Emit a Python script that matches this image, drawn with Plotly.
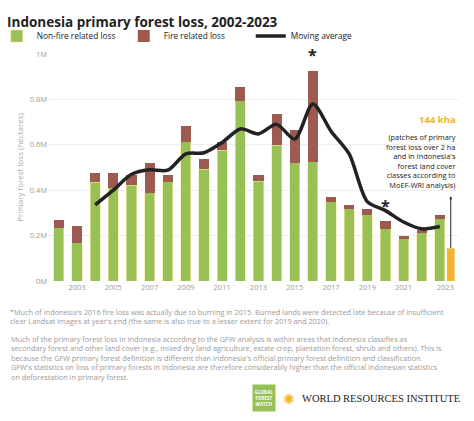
import plotly.graph_objects as go

years = list(range(2002, 2024))
nonfire = [0.234,0.169,0.434,0.410,0.422,0.388,0.437,0.613,0.493,0.575,0.793,0.440,0.599,0.521,0.525,0.350,0.319,0.291,0.231,0.187,0.213,0.275]
total = [0.268,0.244,0.476,0.476,0.466,0.522,0.466,0.681,0.537,0.612,0.853,0.469,0.735,0.665,0.926,0.369,0.337,0.319,0.266,0.200,0.225,0.290]
fire = [round(t-n,3) for t,n in zip(total,nonfire)]
ma_years = list(range(2004, 2024))
ma = [0.335,0.40,0.47,0.49,0.488,0.56,0.565,0.61,0.67,0.648,0.69,0.625,0.78,0.66,0.56,0.35,0.31,0.26,0.23,0.24]
moef_year = 2023.6
moef_val = 0.144
ytick_vals = [0,0.2,0.4,0.6,0.8,1.0]
ytick_text = ["0M","0.2M","0.4M","0.6M","0.8M","1M"]
xtick_vals = [2003,2005,2007,2009,2011,2013,2015,2017,2019,2021,2023.3]
xtick_text = ["2003","2005","2007","2009","2011","2013","2015","2017","2019","2021","2023"]

GREEN="#97c155"; BROWN="#9e5a50"; ORANGE="#f6b526"; GRAY="#9a9a9a"
fig = go.Figure()
fig.add_bar(x=years, y=nonfire, name="Non-fire related loss", marker_color=GREEN, width=0.56,
            marker_line=dict(color="#f3e9a0", width=0.6))
fig.add_bar(x=years, y=fire, name="Fire related loss", marker_color=BROWN, width=0.56, marker_line_width=0)
fig.add_bar(x=[moef_year], y=[moef_val], marker_color=ORANGE, width=0.42, showlegend=False)
fig.add_scatter(x=ma_years, y=ma, mode="lines", name="Moving average",
                line=dict(color="#222222", width=3.5, shape="spline", smoothing=0.8))
fig.update_layout(
    barmode="stack", width=474, height=421, paper_bgcolor="white", plot_bgcolor="white",
    margin=dict(l=48, r=16, t=54, b=140, autoexpand=False), font=dict(family="Open Sans", color=GRAY),
    title=dict(text="<b>Indonesia primary forest loss, 2002-2023</b>", x=0.015, y=0.958,
               font=dict(size=13.5, color="#222", family="Open Sans")),
    legend=dict(orientation="h", x=-0.125, y=1.079, xanchor="left", yanchor="middle",
                font=dict(size=8.3, color="#222"), traceorder="normal", itemwidth=30,
                entrywidth=82, entrywidthmode="pixels"),
    xaxis=dict(range=[2001.4, 2024.0], tickvals=xtick_vals, ticktext=xtick_text, tickfont=dict(size=7.5),
               showgrid=False, showline=False, ticks=""),
    yaxis=dict(range=[0, 1.0], tickvals=ytick_vals, ticktext=ytick_text, tickfont=dict(size=7.5),
               gridcolor="#eeeeee", zeroline=False,
               title=dict(text="Primary forest loss (hectares)", font=dict(size=8, color="#aaa"), standoff=4)),
    bargap=0.3,
)
fig.add_annotation(x=2016, y=0.94, text="<b>*</b>", showarrow=False, font=dict(size=16, color="#222"), yanchor="bottom")
fig.add_annotation(x=2020, y=0.275, text="<b>*</b>", showarrow=False, font=dict(size=16, color="#222"), yanchor="bottom")
fig.add_annotation(x=1.0, xref="paper", y=0.675, text="<b>144 kha</b>", showarrow=False, xanchor="right",
                   yanchor="bottom", font=dict(size=9.5, color=ORANGE))
fig.add_annotation(x=1.0, xref="paper", y=0.665,
                   text="(patches of primary<br>forest loss over 2 ha<br>and in Indonesia's<br>forest land cover<br>classes according to<br>MoEF-WRI analysis)",
                   showarrow=False, xanchor="right", yanchor="top", align="right", font=dict(size=7.4, color="#222"))
fig.add_shape(type="line", x0=2023.6, x1=2023.6, y0=0.145, y1=0.365, line=dict(color="#222", width=1))
fig.add_shape(type="circle", x0=2023.55, x1=2023.65, y0=0.358, y1=0.372, fillcolor="#222", line_width=0)
fn = ("*Much of Indonesia's 2016 fire loss was actually due to burning in 2015. Burned lands were detected late because of insufficient<br>"
      "clear Landsat images at year's end (the same is also true to a lesser extent for 2019 and 2020).")
fn2 = ("Much of the primary forest loss in Indonesia according to the GFW analysis is within areas that Indonesia classifies as<br>"
       "secondary forest and other land cover (e.g., mixed dry land agriculture, estate crop, plantation forest, shrub and others). This is<br>"
       "because the GFW primary forest definition is different than Indonesia's official primary forest definition and classification.<br>"
       "GFW's statistics on loss of primary forests in Indonesia are therefore considerably higher than the official Indonesian statistics<br>"
       "on deforestation in primary forest.")
def py(p):
    return (281 - p) / 227
fig.add_annotation(x=-0.098, xref="paper", y=py(305), yref="paper", text=fn, showarrow=False, xanchor="left",
                   yanchor="top", align="left", font=dict(size=7.3, color=GRAY))
fig.add_annotation(x=-0.094, xref="paper", y=py(332), yref="paper", text=fn2, showarrow=False, xanchor="left",
                   yanchor="top", align="left", font=dict(size=7.3, color=GRAY))
fig.add_annotation(x=(264-48)/410, y=py(398), xref="paper", yref="paper", text="<b>GLOBAL<br>FOREST<br>WATCH</b>",
                   showarrow=False, bgcolor=GREEN, font=dict(size=4.5, color="white"), width=20, height=24,
                   yanchor="middle")
fig.add_annotation(x=(289-48)/410, y=py(398), xref="paper", yref="paper", text="✺", showarrow=False,
                   font=dict(size=14, color=ORANGE), yanchor="middle")
fig.add_annotation(x=(300-48)/410, y=py(398), xref="paper", yref="paper", text="WORLD RESOURCES INSTITUTE",
                   showarrow=False, xanchor="left", yanchor="middle",
                   font=dict(size=10.5, color="#222", family="Liberation Serif"))
fig.write_html("out.html", config={"displayModeBar": False},
               post_script="document.body.style.margin='0';document.body.style.overflow='hidden';")
